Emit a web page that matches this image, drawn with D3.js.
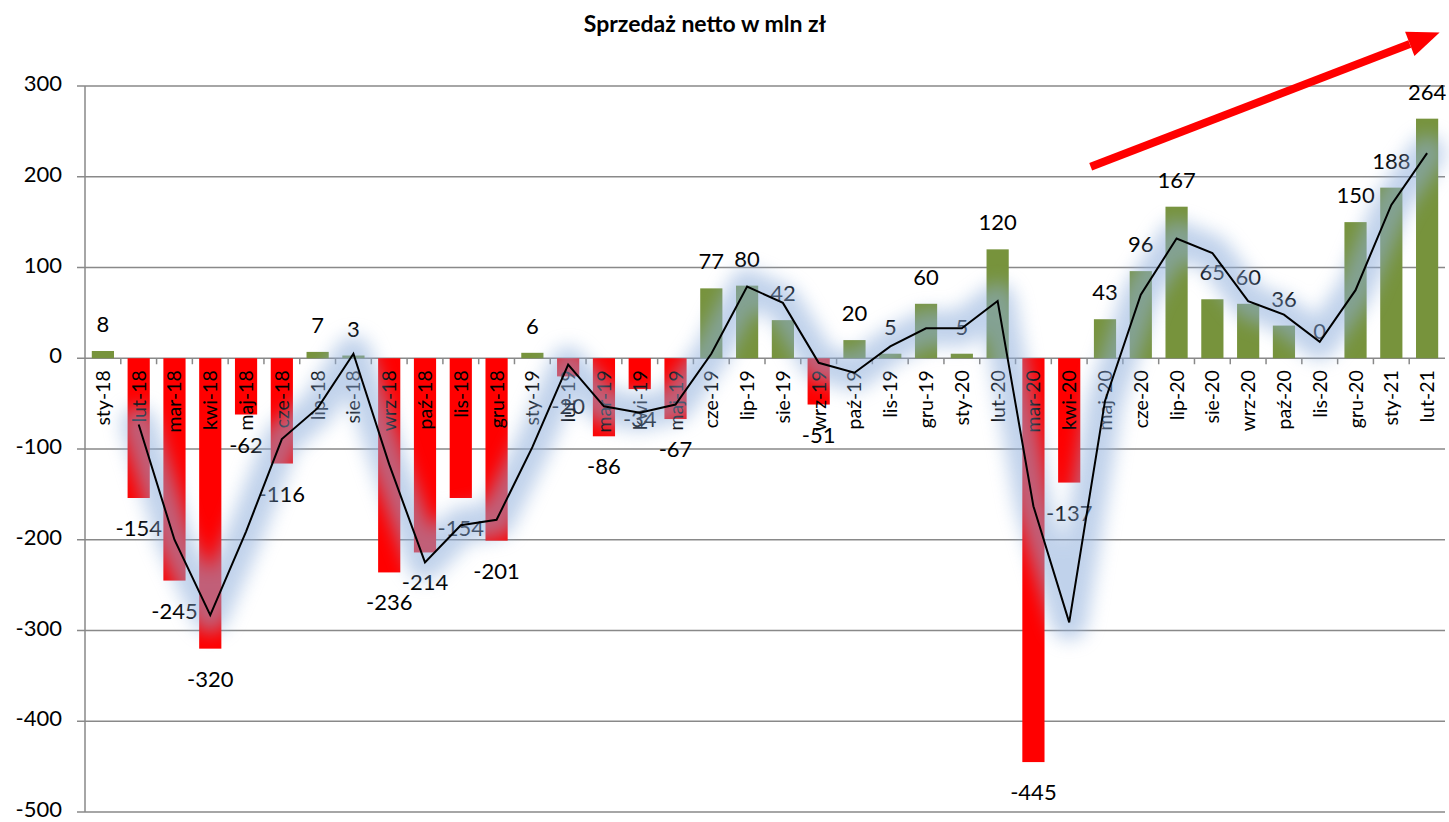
<!DOCTYPE html>
<html>
<head>
<meta charset="utf-8">
<script src="https://cdn.jsdelivr.net/npm/d3@7"></script>
<style>
  body { margin: 0; background: #fff; }
  text { font-family: Lato, "Open Sans", sans-serif; }
</style>
</head>
<body>
<div id="chart"></div>
<script>
const months = ["sty-18","lut-18","mar-18","kwi-18","maj-18","cze-18","lip-18","sie-18","wrz-18","paź-18","lis-18","gru-18",
  "sty-19","lut-19","mar-19","kwi-19","maj-19","cze-19","lip-19","sie-19","wrz-19","paź-19","lis-19","gru-19",
  "sty-20","lut-20","mar-20","kwi-20","maj-20","cze-20","lip-20","sie-20","wrz-20","paź-20","lis-20","gru-20",
  "sty-21","lut-21"];
const sales = [8,-154,-245,-320,-62,-116,7,3,-236,-214,-154,-201,
  6,-20,-86,-34,-67,77,80,42,-51,20,5,60,
  5,120,-445,-137,43,96,167,65,60,36,0,150,
  188,264];
// 2-period moving average as drawn (starts at lut-18)
const trend = [null,-73,-200,-283,-191,-89,-55,5,-117,-225,-184,-178,
  -98,-7,-53,-60,-51,5,79,61,-5,-16,13,33,
  33,63,-163,-291,-47,70,132,116,63,48,18,75,
  169,226];
const yTicks = [300,200,100,0,-100,-200,-300,-400,-500];

const width = 1449, height = 822;
const svg = d3.select("#chart").append("svg")
  .attr("width", width).attr("height", height);

const defs = svg.append("defs");
defs.append("filter").attr("id", "glow")
  .attr("x", "-20%").attr("y", "-20%").attr("width", "140%").attr("height", "140%")
  .append("feGaussianBlur").attr("stdDeviation", 9);

const x = d3.scaleBand().domain(months).range([85, 1445]).paddingInner(0.38).paddingOuter(0.19);
const y = d3.scaleLinear().domain([-500, 300]).range([812, 86]);
const cx = d => x(d) + x.bandwidth() / 2;

svg.append("text")
  .attr("x", 705).attr("y", 32)
  .attr("text-anchor", "middle")
  .attr("font-size", 23).attr("font-weight", "bold")
  .text("Sprzedaż netto w mln zł");

// grid + y axis
const grid = svg.append("g");
grid.selectAll("line").data(yTicks).join("line")
  .attr("x1", 77).attr("x2", 1445)
  .attr("y1", d => y(d)).attr("y2", d => y(d))
  .attr("stroke", "#898989").attr("stroke-width", 1.5);
grid.append("line")
  .attr("x1", 85).attr("x2", 85).attr("y1", y(300)).attr("y2", y(-500))
  .attr("stroke", "#898989").attr("stroke-width", 1.5);
grid.selectAll("text").data(yTicks).join("text")
  .attr("x", 62).attr("y", d => y(d) + 5)
  .attr("text-anchor", "end").attr("font-size", 22)
  .text(d => d);

// category ticks on zero line
svg.append("g").selectAll("line").data(months.slice(1)).join("line")
  .attr("x1", d => x(d) - x.step() * x.paddingInner() / 2)
  .attr("x2", d => x(d) - x.step() * x.paddingInner() / 2)
  .attr("y1", y(0)).attr("y2", y(0) + 6)
  .attr("stroke", "#898989").attr("stroke-width", 1.5);

// bars
const data = months.map((m, i) => ({ m, v: sales[i], t: trend[i] }));
svg.append("g").selectAll("rect").data(data).join("rect")
  .attr("x", d => x(d.m))
  .attr("width", x.bandwidth())
  .attr("y", d => y(Math.max(0, d.v)))
  .attr("height", d => Math.abs(y(d.v) - y(0)))
  .attr("fill", d => d.v < 0 ? "#ff0000" : "#77933c");

// category labels
svg.append("g").selectAll("text").data(data).join("text")
  .attr("transform", d => `translate(${cx(d.m) + 7},${y(0) + 12}) rotate(-90)`)
  .attr("text-anchor", "end")
  .attr("font-size", 19.5)
  .text(d => d.m);

// value labels
svg.append("g").selectAll("text").data(data).join("text")
  .attr("x", d => cx(d.m))
  .attr("y", d => d.v >= 0 ? y(d.v) - 19 : y(d.v) + 38)
  .attr("text-anchor", "middle")
  .attr("font-size", 22)
  .text(d => d.v);

// trend line with glow
const trendPts = data.filter(d => d.t !== null);
const line = d3.line().x(d => cx(d.m)).y(d => y(d.t));
svg.append("path").datum(trendPts)
  .attr("d", line)
  .attr("fill", "none")
  .attr("stroke", "#8eaedb")
  .attr("stroke-width", 36)
  .attr("stroke-linejoin", "round")
  .attr("stroke-linecap", "round")
  .attr("opacity", 0.55)
  .attr("filter", "url(#glow)");
svg.append("path").datum(trendPts)
  .attr("d", line)
  .attr("fill", "none")
  .attr("stroke", "#000")
  .attr("stroke-width", 2);

// red arrow annotation (placed in data space)
const xi = d3.scaleLinear().domain([0, months.length - 1]).range([cx(months[0]), cx(months[months.length - 1])]);
const a0 = [xi(27.6), y(211)], a1 = [xi(37.35), y(359)];
const ang = Math.atan2(a1[1] - a0[1], a1[0] - a0[0]);
const headLen = 32, headW = 13;
const base = [a1[0] - headLen * Math.cos(ang), a1[1] - headLen * Math.sin(ang)];
svg.append("line")
  .attr("x1", a0[0]).attr("y1", a0[1])
  .attr("x2", base[0]).attr("y2", base[1])
  .attr("stroke", "#ff0000").attr("stroke-width", 8);
svg.append("path")
  .attr("d", d3.line()([
    a1,
    [base[0] + headW * Math.sin(ang), base[1] - headW * Math.cos(ang)],
    [base[0] - headW * Math.sin(ang), base[1] + headW * Math.cos(ang)]
  ]))
  .attr("fill", "#ff0000");
</script>
</body>
</html>
